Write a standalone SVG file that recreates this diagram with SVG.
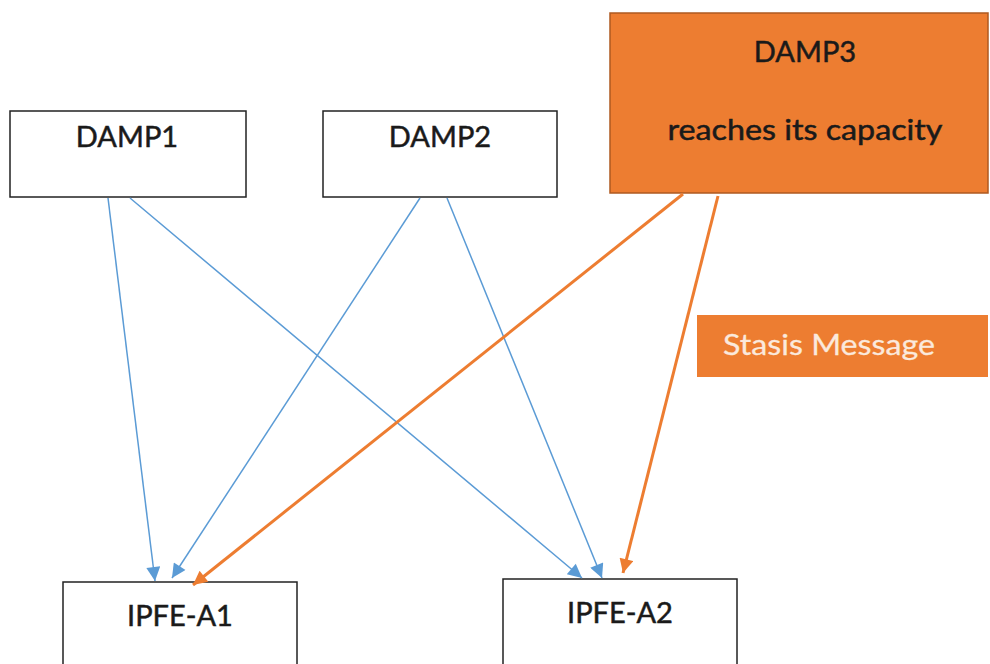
<svg xmlns="http://www.w3.org/2000/svg" width="990" height="664" viewBox="0 0 990 664">
<style>
.box{fill:#fff;stroke:#222;stroke-width:1.5}
.obox{fill:#ED7D31;stroke:#AE5A21;stroke-width:1.5}
.t{font-family:Lato,"Open Sans",sans-serif;font-size:29px;fill:#1a1a1a;stroke:#1a1a1a;stroke-width:0.5;text-anchor:middle}
.blue{stroke:#5B9BD5;stroke-width:1.5;fill:none}
.orange{stroke:#ED7D31;stroke-width:3;fill:none}
</style>
<defs>
<marker id="ab2" viewBox="0 0 10 10" refX="10" refY="5" markerWidth="16" markerHeight="14" markerUnits="userSpaceOnUse" orient="auto"><path d="M0,0 L10,5 L0,10 z" fill="#5B9BD5"/></marker>
<marker id="ao" viewBox="0 0 10 10" refX="10" refY="5" markerWidth="16" markerHeight="14" markerUnits="userSpaceOnUse" orient="auto"><path d="M0,0 L10,5 L0,10 z" fill="#ED7D31"/></marker>
</defs>
<rect width="990" height="664" fill="#fff"/>
<g id="damp1"><rect class="box" x="10" y="111" width="236" height="86"/><text class="t" x="127" y="147">DAMP1</text></g>
<g id="damp2"><rect class="box" x="323" y="111" width="234" height="86"/><text class="t" x="440" y="147">DAMP2</text></g>
<g id="damp3"><rect class="obox" x="610" y="13" width="378" height="180"/><text class="t" x="805" y="62" font-size="29">DAMP3</text><text class="t" x="805" y="140" font-size="29" textLength="275" lengthAdjust="spacingAndGlyphs">reaches its capacity</text></g>
<g id="stasis"><rect x="697" y="315" width="291" height="62" fill="#ED7D31"/><text x="723" y="355" font-family="Lato,'Open Sans',sans-serif" font-size="29" fill="#FBE9DC" stroke="#FBE9DC" stroke-width="0.3" textLength="212" lengthAdjust="spacingAndGlyphs">Stasis Message</text></g>
<g id="ipfe-a1"><rect class="box" x="63" y="582" width="234" height="100"/><text class="t" x="180" y="626">IPFE-A1</text></g>
<g id="ipfe-a2"><rect class="box" x="503" y="579" width="234" height="100"/><text class="t" x="620" y="623">IPFE-A2</text></g>
<g id="connectors">
<line class="blue" x1="108" y1="198" x2="155" y2="581" marker-end="url(#ab2)"/>
<line class="blue" x1="130" y1="198" x2="582" y2="578" marker-end="url(#ab2)"/>
<line class="blue" x1="420" y1="198" x2="172" y2="578" marker-end="url(#ab2)"/>
<line class="blue" x1="447" y1="198" x2="602" y2="578" marker-end="url(#ab2)"/>
<line class="orange" x1="683" y1="194" x2="193" y2="585" marker-end="url(#ao)"/>
<line class="orange" x1="718" y1="196" x2="623" y2="573" marker-end="url(#ao)"/>
</g>
</svg>
